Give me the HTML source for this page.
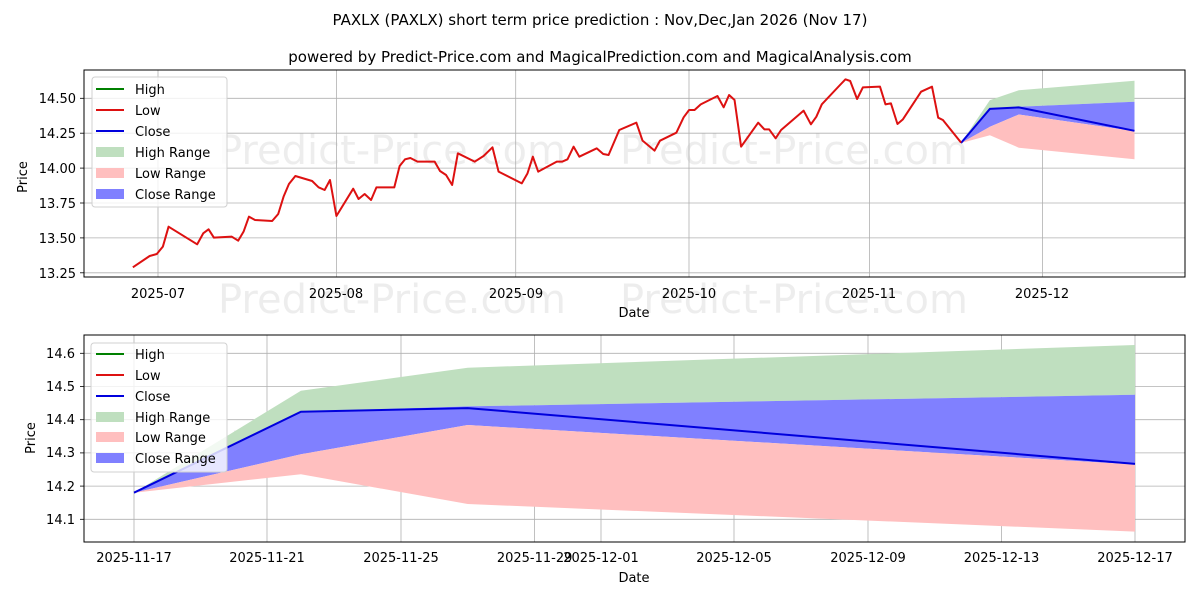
<!DOCTYPE html>
<html><head><meta charset="utf-8"><style>
html,body{margin:0;padding:0;background:#fff;}
svg{display:block;font-family:"DejaVu Sans","Liberation Sans",sans-serif;}
</style></head><body>
<svg width="1200" height="600" viewBox="0 0 1200 600" xmlns="http://www.w3.org/2000/svg">
<rect width="1200" height="600" fill="#fff"/>
<text x="600" y="25" font-size="15" text-anchor="middle">PAXLX (PAXLX) short term price prediction : Nov,Dec,Jan 2026 (Nov 17)</text>
<text x="600" y="62" font-size="15" text-anchor="middle">powered by Predict-Price.com and MagicalPrediction.com and MagicalAnalysis.com</text>

<g font-size="40" fill="#000" fill-opacity="0.07">
<text x="218" y="164">Predict-Price.com</text>
<text x="620" y="164">Predict-Price.com</text>
<text x="218" y="313">Predict-Price.com</text>
<text x="620" y="313">Predict-Price.com</text>
<text x="230" y="460">Predict-Price.com</text>
<text x="620" y="460">Predict-Price.com</text>
</g>

<g stroke="#b0b0b0" stroke-width="0.8">
<line x1="158" y1="70" x2="158" y2="277"/><line x1="336.4" y1="70" x2="336.4" y2="277"/>
<line x1="515.7" y1="70" x2="515.7" y2="277"/><line x1="689" y1="70" x2="689" y2="277"/>
<line x1="869.5" y1="70" x2="869.5" y2="277"/><line x1="1042.5" y1="70" x2="1042.5" y2="277"/>
<line x1="84" y1="98.3" x2="1185" y2="98.3"/><line x1="84" y1="133.2" x2="1185" y2="133.2"/>
<line x1="84" y1="168.1" x2="1185" y2="168.1"/><line x1="84" y1="203" x2="1185" y2="203"/>
<line x1="84" y1="237.9" x2="1185" y2="237.9"/><line x1="84" y1="272.8" x2="1185" y2="272.8"/>
</g>
<polygon fill="#bfdfbf" points="961,143 989.9,100.1 1018.8,90.3 1134.5,80.8 1134.5,101.8 1018.8,106.7 989.9,108.9"/>
<polygon fill="#8080ff" points="961,143 989.9,108.9 1018.8,106.7 1134.5,101.8 1134.5,131.1 1018.8,114.5 989.9,126.8"/>
<polygon fill="#ffbfbf" points="961,143 989.9,126.8 1018.8,114.5 1134.5,131.1 1134.5,159.3 1018.8,147.7 989.9,135.2"/>
<polyline fill="none" stroke="#0000dd" stroke-width="2" points="961,143 989.9,108.9 1018.8,107.4 1134.5,130.8"/>
<g transform="translate(80,70) scale(0.35714,0.33333)">
<polyline fill="none" stroke="#dd1111" stroke-width="2" vector-effect="non-scaling-stroke" stroke-linejoin="round" points="148,592 195,558 215,552 232,530 248,470 328,523 345,490 360,478 375,503 425,500 443,512 458,485 473,440 490,450 538,453 555,432 570,380 585,342 603,318 650,333 668,352 685,360 700,330 718,438 765,356 780,387 797,372 815,390 830,352 880,352 895,288 910,268 925,264 945,275 993,275 1008,303 1025,315 1042,345 1058,250 1105,275 1130,258 1155,232 1172,305 1237,340 1253,310 1268,260 1283,305 1335,275 1350,275 1365,268 1382,230 1398,260 1447,235 1465,252 1480,255 1510,180 1512,180"/>
</g>
<g transform="translate(620,70) scale(0.36364,0.33333)">
<polyline fill="none" stroke="#dd1111" stroke-width="2" vector-effect="non-scaling-stroke" stroke-linejoin="round" points="-2,180 45,158 62,212 95,242 110,212 155,188 175,142 190,120 205,120 222,103 268,78 285,112 300,75 315,90 333,230 380,158 397,178 410,178 428,205 443,180 505,122 525,163 540,140 555,103 605,45 620,28 633,33 652,87 668,52 715,50 730,103 745,100 763,162 778,148 828,65 858,50 875,143 888,150 938,218"/>
</g>
<rect x="84" y="70" width="1101" height="207" fill="none" stroke="#000" stroke-width="1"/>
<g font-size="13" fill="#000">
<g text-anchor="end">
<text x="76" y="103">14.50</text><text x="76" y="138">14.25</text><text x="76" y="173">14.00</text>
<text x="76" y="208">13.75</text><text x="76" y="243">13.50</text><text x="76" y="278">13.25</text>
</g>
<g text-anchor="middle">
<text x="158" y="298">2025-07</text><text x="336" y="298">2025-08</text><text x="516" y="298">2025-09</text>
<text x="689" y="298">2025-10</text><text x="869" y="298">2025-11</text><text x="1042" y="298">2025-12</text>
<text x="634" y="317">Date</text>
</g>
<text transform="translate(27,177) rotate(-90)" text-anchor="middle">Price</text>
</g>
<g stroke="#000" stroke-width="0.8">
<line x1="80" y1="98.3" x2="84" y2="98.3"/><line x1="80" y1="133.2" x2="84" y2="133.2"/><line x1="80" y1="168.1" x2="84" y2="168.1"/>
<line x1="80" y1="203" x2="84" y2="203"/><line x1="80" y1="237.9" x2="84" y2="237.9"/><line x1="80" y1="272.8" x2="84" y2="272.8"/>
</g>
<rect x="92" y="77" width="135" height="130" rx="3" fill="#fff" fill-opacity="0.8" stroke="#d0d0d0"/>
<g font-size="13">
<line x1="96" y1="89" x2="124" y2="89" stroke="green" stroke-width="2"/><text x="135" y="94">High</text>
<line x1="96" y1="110" x2="124" y2="110" stroke="#dd1111" stroke-width="2"/><text x="135" y="115">Low</text>
<line x1="96" y1="131" x2="124" y2="131" stroke="#0000dd" stroke-width="2"/><text x="135" y="136">Close</text>
<rect x="96" y="147" width="28" height="10" fill="#bfdfbf"/><text x="135" y="157">High Range</text>
<rect x="96" y="168" width="28" height="10" fill="#ffbfbf"/><text x="135" y="178">Low Range</text>
<rect x="96" y="189" width="28" height="10" fill="#8080ff"/><text x="135" y="199">Close Range</text>
</g>

<g stroke="#b0b0b0" stroke-width="0.8">
<line x1="134" y1="335" x2="134" y2="542"/><line x1="267" y1="335" x2="267" y2="542"/>
<line x1="401" y1="335" x2="401" y2="542"/><line x1="534.6" y1="335" x2="534.6" y2="542"/>
<line x1="601" y1="335" x2="601" y2="542"/><line x1="734" y1="335" x2="734" y2="542"/>
<line x1="868" y1="335" x2="868" y2="542"/><line x1="1001.5" y1="335" x2="1001.5" y2="542"/>
<line x1="1135" y1="335" x2="1135" y2="542"/>
<line x1="84" y1="353.3" x2="1185" y2="353.3"/><line x1="84" y1="386.5" x2="1185" y2="386.5"/>
<line x1="84" y1="419.7" x2="1185" y2="419.7"/><line x1="84" y1="452.9" x2="1185" y2="452.9"/>
<line x1="84" y1="486.1" x2="1185" y2="486.1"/><line x1="84" y1="519.3" x2="1185" y2="519.3"/>
</g>
<polygon fill="#bfdfbf" points="134,492.7 300.9,390.8 467.7,367.7 1135,345 1135,394.8 467.7,406.4 300.9,411.7"/>
<polygon fill="#8080ff" points="134,492.7 300.9,411.7 467.7,406.4 1135,394.8 1135,464.5 467.7,425 300.9,454.3"/>
<polygon fill="#ffbfbf" points="134,492.7 300.9,454.3 467.7,425 1135,464.5 1135,531.6 467.7,504 300.9,474.2"/>
<polyline fill="none" stroke="#0000dd" stroke-width="2" points="134,492.7 300.9,411.7 467.7,408.1 1135,463.9"/>
<rect x="84" y="335" width="1101" height="207" fill="none" stroke="#000" stroke-width="1"/>
<g stroke="#000" stroke-width="0.8">
<line x1="80" y1="353.3" x2="84" y2="353.3"/><line x1="80" y1="386.5" x2="84" y2="386.5"/><line x1="80" y1="419.7" x2="84" y2="419.7"/>
<line x1="80" y1="452.9" x2="84" y2="452.9"/><line x1="80" y1="486.1" x2="84" y2="486.1"/><line x1="80" y1="519.3" x2="84" y2="519.3"/>
</g>
<g font-size="13" fill="#000">
<g text-anchor="end">
<text x="75" y="358">14.6</text><text x="75" y="391">14.5</text><text x="75" y="424">14.4</text>
<text x="75" y="457">14.3</text><text x="75" y="491">14.2</text><text x="75" y="524">14.1</text>
</g>
<g text-anchor="middle">
<text x="134" y="562">2025-11-17</text><text x="267" y="562">2025-11-21</text><text x="401" y="562">2025-11-25</text>
<text x="534.6" y="562">2025-11-29</text><text x="601" y="562">2025-12-01</text><text x="734" y="562">2025-12-05</text>
<text x="868" y="562">2025-12-09</text><text x="1001.5" y="562">2025-12-13</text><text x="1135" y="562">2025-12-17</text>
<text x="634" y="582">Date</text>
</g>
<text transform="translate(35,438) rotate(-90)" text-anchor="middle">Price</text>
</g>
<rect x="91" y="343" width="136" height="129" rx="3" fill="#fff" fill-opacity="0.8" stroke="#d0d0d0"/>
<g font-size="13">
<line x1="96" y1="354" x2="124" y2="354" stroke="green" stroke-width="2"/><text x="135" y="359">High</text>
<line x1="96" y1="375" x2="124" y2="375" stroke="#dd1111" stroke-width="2"/><text x="135" y="380">Low</text>
<line x1="96" y1="396" x2="124" y2="396" stroke="#0000dd" stroke-width="2"/><text x="135" y="401">Close</text>
<rect x="96" y="412" width="28" height="10" fill="#bfdfbf"/><text x="135" y="422">High Range</text>
<rect x="96" y="432" width="28" height="10" fill="#ffbfbf"/><text x="135" y="442">Low Range</text>
<rect x="96" y="453" width="28" height="10" fill="#8080ff"/><text x="135" y="463">Close Range</text>
</g>
</svg>
</body></html>
